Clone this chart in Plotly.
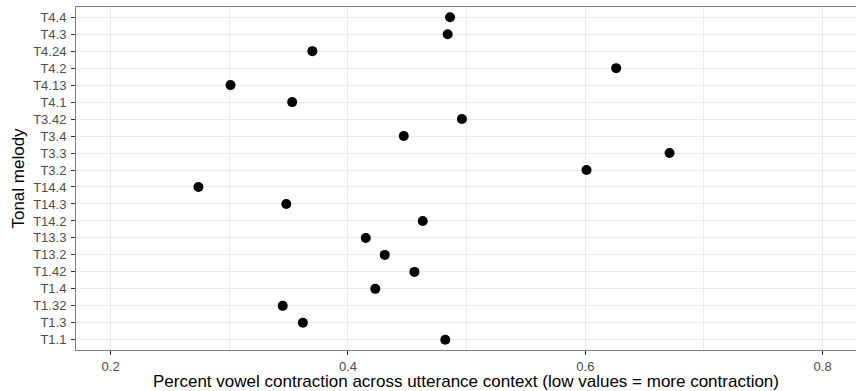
import plotly.graph_objects as go

# Tonal melodies, listed bottom to top on the category axis
melodies = ["T1.1", "T1.3", "T1.32", "T1.4", "T1.42", "T13.2", "T13.3", "T14.2",
            "T14.3", "T14.4", "T3.2", "T3.3", "T3.4", "T3.42", "T4.1", "T4.13",
            "T4.2", "T4.24", "T4.3", "T4.4"]

# Percent vowel contraction across utterance context per melody
contraction = [0.482, 0.362, 0.345, 0.423, 0.456, 0.431, 0.415, 0.463,
               0.348, 0.274, 0.601, 0.671, 0.447, 0.496, 0.353, 0.301,
               0.626, 0.370, 0.484, 0.486]

x_ticks = [0.2, 0.4, 0.6, 0.8]

fig = go.Figure(go.Scatter(
    x=contraction, y=melodies, mode="markers",
    marker=dict(color="black", size=10, line=dict(width=0)),
    hoverinfo="x+y",
))

axis_font = dict(family="Liberation Sans, Arial, sans-serif", size=13, color="#4D4D4D")
title_font = dict(family="Liberation Sans, Arial, sans-serif", size=17, color="black")

fig.update_layout(
    width=856, height=391,
    margin=dict(l=76, r=0, t=7, b=41),
    paper_bgcolor="white", plot_bgcolor="white",
    showlegend=False,
    xaxis=dict(
        range=[0.1708, 0.8281],
        tickmode="array", tickvals=x_ticks, ticktext=[f"{v:.1f}" for v in x_ticks],
        tickfont=axis_font,
        ticks="outside", ticklen=4, tickcolor="#333333", tickwidth=1,
        showgrid=True, gridcolor="#EBEBEB", gridwidth=1,
        minor=dict(tickvals=[0.3, 0.5, 0.7], showgrid=True, gridcolor="#EBEBEB",
                   gridwidth=1, ticks=""),
        showline=True, linecolor="#7F7F7F", linewidth=1, mirror=True,
        zeroline=False,
        title=dict(text="Percent vowel contraction across utterance context (low values = more contraction)",
                   font=title_font, standoff=4),
    ),
    yaxis=dict(
        type="category", categoryorder="array", categoryarray=melodies,
        range=[-0.6, len(melodies) - 0.4],
        tickfont=axis_font,
        ticks="outside", ticklen=4, tickcolor="#333333", tickwidth=1,
        ticklabelstandoff=2,
        showgrid=True, gridcolor="#EBEBEB", gridwidth=1,
        showline=True, linecolor="#7F7F7F", linewidth=1, mirror=False,
        zeroline=False,
        title=dict(text="Tonal melody", font=title_font, standoff=4),
    ),
)

fig.write_html("out.html")
